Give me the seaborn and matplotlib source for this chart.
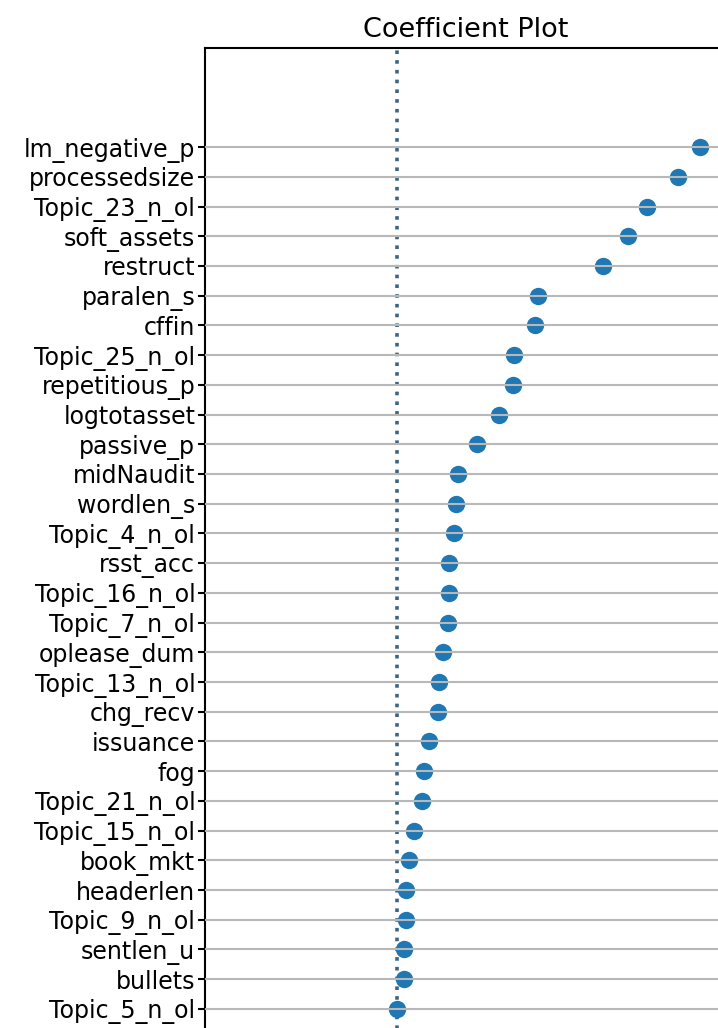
import matplotlib
matplotlib.use("Agg")
import matplotlib.pyplot as plt
import seaborn as sns
import pandas as pd

features = [
    "lm_negative_p", "processedsize", "Topic_23_n_ol", "soft_assets", "restruct",
    "paralen_s", "cffin", "Topic_25_n_ol", "repetitious_p", "logtotasset",
    "passive_p", "midNaudit", "wordlen_s", "Topic_4_n_ol", "rsst_acc",
    "Topic_16_n_ol", "Topic_7_n_ol", "oplease_dum", "Topic_13_n_ol", "chg_recv",
    "issuance", "fog", "Topic_21_n_ol", "Topic_15_n_ol", "book_mkt",
    "headerlen", "Topic_9_n_ol", "sentlen_u", "bullets", "Topic_5_n_ol",
]
coefs = [
    0.303, 0.281, 0.250, 0.231, 0.206,
    0.141, 0.138, 0.117, 0.116, 0.102,
    0.080, 0.061, 0.059, 0.057, 0.052,
    0.052, 0.051, 0.046, 0.042, 0.041,
    0.032, 0.027, 0.025, 0.017, 0.012,
    0.009, 0.009, 0.007, 0.007, 0.000,
]

df = pd.DataFrame({"feature": features, "coef": coefs})

fig = plt.figure(figsize=(7.18, 10.28), dpi=100)
ax = fig.add_axes([205 / 718, -0.0248, 522 / 718, 0.978])

sns.stripplot(data=df, x="coef", y="feature", jitter=False, size=12.5,
              color="#1f77b4", ax=ax)
for c in ax.collections:
    c.set_zorder(1)
ax.axvline(0, ls=(0, (1, 1.7)), color="#3a6585", lw=2.6, zorder=0.5)

ax.set_xlim(-0.192, 0.330)
ax.set_ylim(30.5, -3.331)
ax.set_axisbelow(False)
ax.grid(axis="y", color="#b8b8b8", lw=1.5)
ax.grid(axis="x", visible=False)
ax.set_xlabel("")
ax.set_ylabel("")
ax.set_xticks([])
ax.tick_params(axis="y", labelsize=17, length=5, width=1.5, pad=2)
for s in ax.spines.values():
    s.set_linewidth(1.5)
ax.set_title("Coefficient Plot", fontsize=19.5, pad=8)

fig.savefig("out.png", dpi=100)
